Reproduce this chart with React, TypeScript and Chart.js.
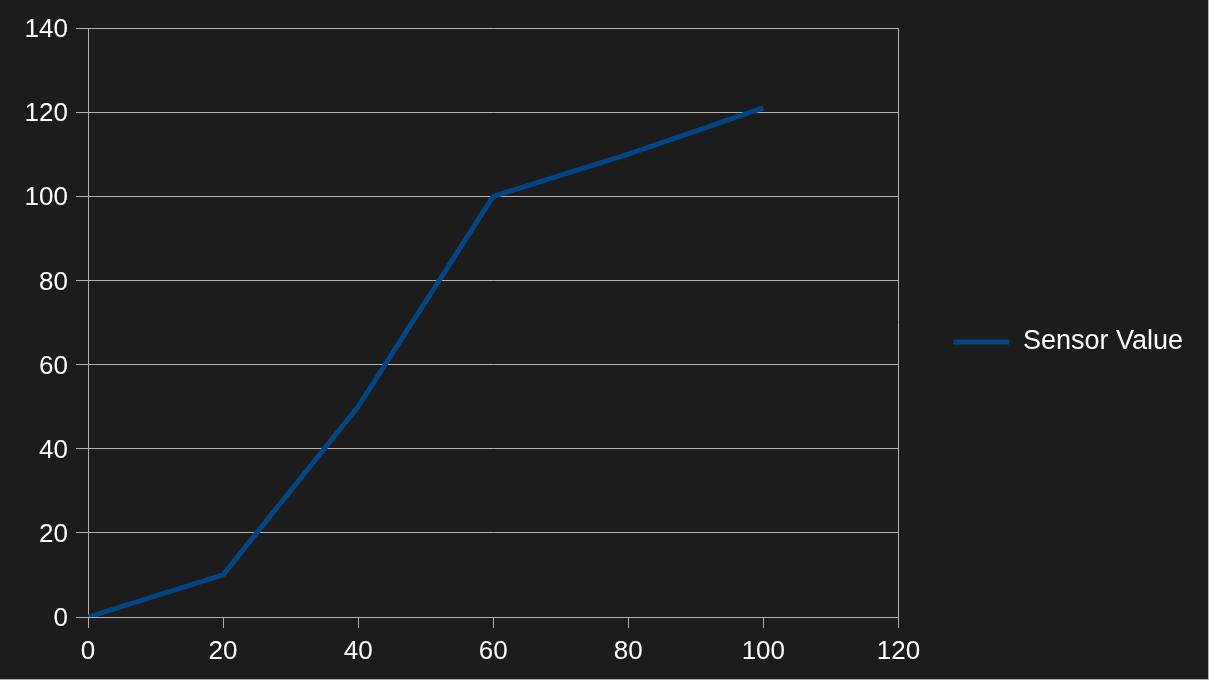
import React, { useEffect, useRef } from "react";
import { Chart, registerables } from "chart.js";

Chart.register(...registerables);

const seriesName = "Sensor Value";
const xValues = [0, 20, 40, 60, 80, 100];
const yValues = [0, 10, 50, 100, 110, 121];
const xMin = 0;
const xMax = 120;
const xStep = 20;
const yMin = 0;
const yMax = 140;
const yStep = 20;

const BG = "#1c1c1c";
const GRID = "#b3b3b3";
const TEXT = "#ffffff";
const LINE = "#004586";
const FONT = "'Liberation Sans', Arial, sans-serif";

export default function App() {
  const canvasRef = useRef<HTMLCanvasElement | null>(null);

  useEffect(() => {
    document.body.style.margin = "0";
    const canvas = canvasRef.current;
    if (!canvas) return;
    const chart = new Chart(canvas, {
      type: "line",
      data: {
        datasets: [
          {
            label: seriesName,
            data: xValues.map((x, i) => ({ x, y: yValues[i] })),
            borderColor: LINE,
            backgroundColor: LINE,
            borderWidth: 5,
            pointRadius: 0,
            tension: 0,
          },
        ],
      },
      options: {
        animation: false,
        responsive: false,
        maintainAspectRatio: false,
        layout: { padding: { top: 28, left: 0, right: 15, bottom: 0 } },
        scales: {
          x: {
            type: "linear",
            min: xMin,
            max: xMax,
            ticks: {
              stepSize: xStep,
              color: TEXT,
              font: { family: FONT, size: 26 },
              padding: 8,
              maxRotation: 0,
            },
            grid: {
              color: (ctx: any) => (ctx.tick && ctx.tick.value === xMax ? GRID : "rgba(0,0,0,0)"),
              tickColor: GRID,
              tickLength: 11,
              lineWidth: 1,
              drawOnChartArea: true,
            },
            border: { display: true, color: GRID, width: 1 },
            afterFit: (scale: any) => {
              scale.height = 62;
            },
          },
          y: {
            type: "linear",
            min: yMin,
            max: yMax,
            ticks: {
              stepSize: yStep,
              color: TEXT,
              font: { family: FONT, size: 26 },
              padding: 8,
              labelOffset: 2,
            },
            grid: {
              color: GRID,
              tickColor: GRID,
              tickLength: 12,
              lineWidth: 1,
            },
            border: { display: true, color: GRID, width: 1 },
            afterFit: (scale: any) => {
              scale.width = 88;
            },
          },
        },
        plugins: {
          tooltip: { enabled: false },
          legend: {
            display: true,
            position: "right",
            align: "center",
            fullSize: false,
            title: {
              display: true,
              text: " ",
              font: { family: FONT, size: 25 },
              padding: 4.5,
            },
            labels: {
              color: TEXT,
              font: { family: FONT, size: 27 },
              boxWidth: 56,
              boxHeight: 5,
              padding: 55,
              generateLabels: (c: any) =>
                c.data.datasets.map((ds: any, i: number) => ({
                  text: ds.label,
                  fillStyle: LINE,
                  strokeStyle: LINE,
                  lineWidth: 0,
                  fontColor: TEXT,
                  hidden: false,
                  datasetIndex: i,
                })),
            },
          },
        },
      },
    });
    return () => chart.destroy();
  }, []);

  return (
    <div
      style={{
        position: "absolute",
        left: 0,
        top: 0,
        width: 1209,
        height: 680,
        boxSizing: "border-box",
        background: BG,
        borderRight: "1px solid #b0b0b0",
        borderBottom: "1px solid #b0b0b0",
      }}
    >
      <canvas ref={canvasRef} width={1208} height={679} style={{ display: "block" }} />
    </div>
  );
}
